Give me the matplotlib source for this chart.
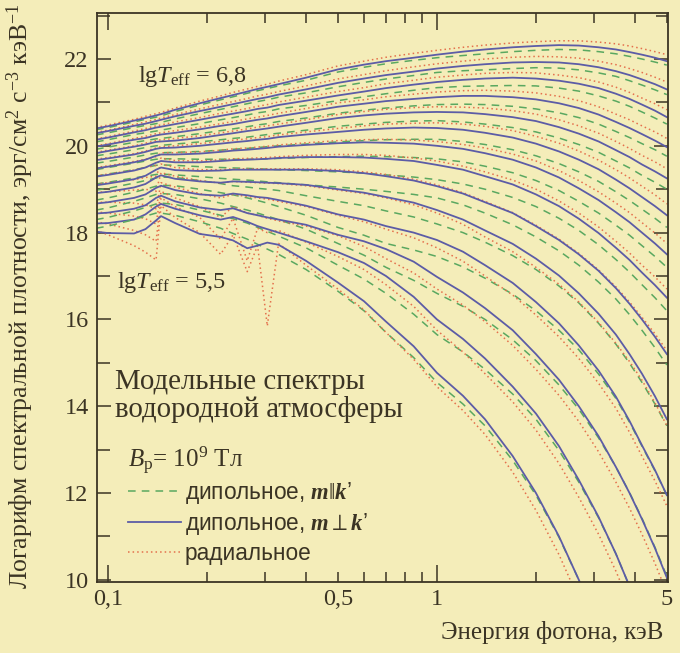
import matplotlib
matplotlib.use("Agg")
import matplotlib.pyplot as plt
from matplotlib.ticker import FixedLocator, FixedFormatter, NullFormatter

# photon energy grid, keV
energy = [0.092, 0.1, 0.12, 0.13, 0.14, 0.145, 0.16, 0.19, 0.22, 0.24, 0.265, 0.285,
          0.305, 0.33, 0.4, 0.5, 0.6, 0.7, 0.85, 1.0, 1.2, 1.4, 1.7, 2.0, 2.35, 2.7,
          3.1, 3.5, 3.85, 4.2, 4.6, 5.0]
lg_teff = [6.8, 6.7, 6.6, 6.5, 6.4, 6.3, 6.2, 6.1, 6.0, 5.9, 5.8, 5.7, 5.6, 5.5]

# dipole field, m perpendicular to k' (solid)
perp = [
    [20.40, 20.45, 20.58, 20.64, 20.70, 20.73, 20.83, 20.98, 21.10, 21.17, 21.25, 21.31, 21.36, 21.42, 21.57,
     21.76, 21.87, 21.95, 22.03, 22.10, 22.17, 22.22, 22.27, 22.30, 22.32, 22.31, 22.27, 22.22, 22.16, 22.10, 22.03, 21.95],
    [20.29, 20.34, 20.46, 20.51, 20.57, 20.60, 20.68, 20.80, 20.90, 20.96, 21.03, 21.08, 21.12, 21.18, 21.30,
     21.45, 21.55, 21.63, 21.71, 21.78, 21.84, 21.88, 21.92, 21.93, 21.92, 21.88, 21.81, 21.72, 21.63, 21.53, 21.42, 21.30],
    [20.14, 20.19, 20.31, 20.36, 20.42, 20.44, 20.50, 20.60, 20.69, 20.74, 20.80, 20.85, 20.88, 20.94, 21.04,
     21.16, 21.25, 21.33, 21.41, 21.47, 21.52, 21.55, 21.57, 21.55, 21.50, 21.43, 21.33, 21.20, 21.08, 20.95, 20.81, 20.66],
    [19.98, 20.03, 20.14, 20.18, 20.24, 20.26, 20.30, 20.38, 20.46, 20.50, 20.56, 20.60, 20.63, 20.68, 20.78,
     20.90, 20.97, 21.03, 21.08, 21.12, 21.15, 21.15, 21.12, 21.07, 20.98, 20.87, 20.72, 20.55, 20.41, 20.27, 20.12, 19.97],
    [19.83, 19.88, 19.98, 20.03, 20.09, 20.10, 20.12, 20.18, 20.25, 20.29, 20.34, 20.37, 20.40, 20.44, 20.53,
     20.64, 20.70, 20.74, 20.77, 20.78, 20.77, 20.73, 20.66, 20.57, 20.43, 20.28, 20.10, 19.90, 19.74, 19.57, 19.41, 19.25],
    [19.67, 19.71, 19.80, 19.86, 19.93, 19.95, 19.96, 20.00, 20.05, 20.08, 20.11, 20.14, 20.16, 20.20, 20.26,
     20.32, 20.37, 20.40, 20.42, 20.41, 20.37, 20.30, 20.19, 20.05, 19.87, 19.68, 19.46, 19.22, 19.02, 18.82, 18.61, 18.40],
    [19.48, 19.52, 19.62, 19.68, 19.77, 19.80, 19.80, 19.82, 19.86, 19.89, 19.91, 19.93, 19.95, 19.98, 20.02,
     20.06, 20.08, 20.07, 20.05, 20.00, 19.93, 19.83, 19.68, 19.50, 19.27, 19.02, 18.75, 18.47, 18.24, 18.00, 17.75, 17.50],
    [19.29, 19.33, 19.43, 19.50, 19.61, 19.65, 19.62, 19.62, 19.65, 19.67, 19.68, 19.69, 19.70, 19.72, 19.74,
     19.74, 19.73, 19.70, 19.65, 19.56, 19.45, 19.30, 19.11, 18.88, 18.61, 18.32, 17.99, 17.65, 17.37, 17.08, 16.79, 16.50],
    [19.09, 19.13, 19.23, 19.31, 19.45, 19.50, 19.44, 19.42, 19.43, 19.45, 19.45, 19.45, 19.45, 19.45, 19.45,
     19.42, 19.37, 19.30, 19.20, 19.07, 18.90, 18.70, 18.45, 18.15, 17.83, 17.50, 17.12, 16.72, 16.36, 16.00, 15.60, 15.20],
    [18.91, 18.94, 19.04, 19.12, 19.27, 19.32, 19.24, 19.18, 19.15, 19.18, 19.17, 19.16, 19.15, 19.14, 19.10,
     19.00, 18.92, 18.82, 18.69, 18.52, 18.30, 18.05, 17.74, 17.40, 17.01, 16.60, 16.13, 15.65, 15.20, 14.75, 14.23, 13.70],
    [18.67, 18.70, 18.80, 18.88, 19.03, 19.08, 18.98, 18.88, 18.85, 18.90, 18.86, 18.82, 18.80, 18.75, 18.62,
     18.42, 18.30, 18.15, 18.00, 17.83, 17.56, 17.25, 16.84, 16.40, 15.91, 15.40, 14.82, 14.22, 13.66, 13.10, 12.53, 11.95],
    [18.44, 18.46, 18.55, 18.63, 18.80, 18.85, 18.72, 18.58, 18.52, 18.56, 18.45, 18.40, 18.35, 18.30, 18.18,
     17.95, 17.80, 17.62, 17.33, 16.98, 16.62, 16.26, 15.75, 15.20, 14.61, 14.00, 13.31, 12.60, 12.00, 11.40, 10.73, 10.05],
    [18.21, 18.22, 18.30, 18.42, 18.60, 18.66, 18.55, 18.40, 18.30, 18.36, 18.25, 18.15, 18.08, 18.00, 17.80,
     17.55, 17.30, 17.00, 16.52, 16.00, 15.55, 15.10, 14.45, 13.83, 13.08, 12.30, 11.45, 10.60, 9.85, 9.10, 8.25, 7.40],
    [18.02, 17.99, 17.98, 18.08, 18.28, 18.38, 18.22, 17.97, 17.90, 17.82, 17.64, 17.70, 17.77, 17.72, 17.35,
     16.85, 16.42, 15.95, 15.38, 14.77, 14.24, 13.70, 12.85, 12.00, 11.00, 10.00, 8.90, 7.80, 6.80, 5.80, 4.70, 3.60],
]

# dipole field, m parallel to k' (dashed)
par = [
    [20.37, 20.42, 20.55, 20.61, 20.66, 20.69, 20.79, 20.94, 21.06, 21.13, 21.21, 21.27, 21.32, 21.38, 21.51,
     21.70, 21.81, 21.89, 21.97, 22.03, 22.08, 22.12, 22.17, 22.20, 22.22, 22.21, 22.17, 22.12, 22.06, 22.00, 21.93, 21.86],
    [20.25, 20.30, 20.42, 20.47, 20.51, 20.54, 20.62, 20.74, 20.84, 20.90, 20.97, 21.02, 21.06, 21.12, 21.22,
     21.36, 21.46, 21.54, 21.62, 21.69, 21.73, 21.75, 21.78, 21.80, 21.79, 21.75, 21.68, 21.60, 21.50, 21.40, 21.29, 21.18],
    [20.09, 20.14, 20.26, 20.30, 20.34, 20.36, 20.42, 20.51, 20.60, 20.65, 20.71, 20.76, 20.79, 20.85, 20.93,
     21.04, 21.13, 21.20, 21.28, 21.34, 21.37, 21.38, 21.39, 21.38, 21.33, 21.26, 21.15, 21.03, 20.91, 20.78, 20.64, 20.50],
    [19.92, 19.97, 20.08, 20.12, 20.16, 20.17, 20.21, 20.28, 20.35, 20.39, 20.44, 20.48, 20.51, 20.56, 20.64,
     20.75, 20.82, 20.87, 20.92, 20.95, 20.96, 20.95, 20.91, 20.85, 20.76, 20.65, 20.50, 20.33, 20.19, 20.05, 19.91, 19.76],
    [19.77, 19.81, 19.91, 19.96, 20.00, 20.01, 20.04, 20.09, 20.14, 20.17, 20.20, 20.23, 20.26, 20.29, 20.36,
     20.45, 20.50, 20.54, 20.57, 20.58, 20.55, 20.50, 20.42, 20.32, 20.18, 20.03, 19.85, 19.65, 19.49, 19.32, 19.16, 19.00],
    [19.60, 19.64, 19.74, 19.79, 19.83, 19.84, 19.85, 19.87, 19.90, 19.92, 19.94, 19.96, 19.98, 20.00, 20.04,
     20.09, 20.12, 20.14, 20.15, 20.15, 20.10, 20.03, 19.91, 19.77, 19.59, 19.40, 19.18, 18.94, 18.74, 18.54, 18.33, 18.12],
    [19.45, 19.50, 19.60, 19.65, 19.69, 19.70, 19.70, 19.69, 19.69, 19.69, 19.69, 19.69, 19.70, 19.71, 19.73,
     19.75, 19.76, 19.75, 19.73, 19.70, 19.63, 19.53, 19.38, 19.20, 18.97, 18.72, 18.45, 18.17, 17.94, 17.70, 17.45, 17.20],
    [19.30, 19.35, 19.45, 19.50, 19.55, 19.56, 19.55, 19.52, 19.50, 19.49, 19.48, 19.47, 19.46, 19.45, 19.43,
     19.40, 19.37, 19.33, 19.28, 19.22, 19.12, 19.00, 18.81, 18.60, 18.33, 18.05, 17.72, 17.38, 17.09, 16.80, 16.50, 16.20],
    [19.12, 19.16, 19.26, 19.30, 19.34, 19.35, 19.33, 19.29, 19.25, 19.23, 19.21, 19.19, 19.17, 19.15, 19.10,
     19.05, 19.00, 18.95, 18.88, 18.80, 18.64, 18.45, 18.18, 17.90, 17.58, 17.25, 16.86, 16.47, 16.11, 15.75, 15.35, 14.95],
    [18.98, 19.02, 19.14, 19.20, 19.26, 19.28, 19.27, 19.20, 19.13, 19.08, 19.05, 19.02, 19.00, 18.97, 18.85,
     18.72, 18.62, 18.50, 18.36, 18.20, 18.00, 17.78, 17.47, 17.15, 16.77, 16.38, 15.91, 15.43, 14.99, 14.55, 14.05, 13.55],
    [18.75, 18.80, 18.93, 19.00, 19.07, 19.09, 19.08, 19.00, 18.92, 18.87, 18.80, 18.74, 18.68, 18.60, 18.40,
     18.12, 17.94, 17.75, 17.60, 17.45, 17.21, 16.95, 16.58, 16.20, 15.75, 15.30, 14.74, 14.18, 13.63, 13.08, 12.51, 11.95],
    [18.52, 18.57, 18.72, 18.80, 18.88, 18.90, 18.88, 18.78, 18.68, 18.60, 18.52, 18.45, 18.38, 18.30, 18.08,
     17.75, 17.48, 17.20, 16.90, 16.60, 16.30, 16.00, 15.53, 15.05, 14.49, 13.93, 13.27, 12.60, 12.01, 11.42, 10.75, 10.08],
    [18.30, 18.35, 18.50, 18.58, 18.66, 18.68, 18.65, 18.52, 18.40, 18.32, 18.22, 18.12, 18.03, 17.92, 17.65,
     17.25, 16.93, 16.60, 16.12, 15.65, 15.25, 14.85, 14.28, 13.70, 12.98, 12.25, 11.43, 10.60, 9.85, 9.10, 8.28, 7.45],
    [18.10, 18.15, 18.30, 18.38, 18.45, 18.45, 18.40, 18.25, 18.10, 17.98, 17.85, 17.73, 17.62, 17.50, 17.15,
     16.65, 16.20, 15.70, 15.12, 14.55, 14.05, 13.55, 12.75, 11.95, 10.98, 10.00, 8.90, 7.80, 6.80, 5.80, 4.70, 3.60],
]

# radial field (dotted)
radial = [
    [20.42, 20.48, 20.61, 20.68, 20.74, 20.77, 20.87, 21.03, 21.15, 21.23, 21.31, 21.37, 21.42, 21.49, 21.64,
     21.84, 21.95, 22.04, 22.13, 22.20, 22.27, 22.32, 22.37, 22.40, 22.42, 22.42, 22.39, 22.35, 22.30, 22.24, 22.17, 22.10],
    [20.31, 20.36, 20.49, 20.55, 20.61, 20.64, 20.72, 20.85, 20.96, 21.02, 21.09, 21.15, 21.19, 21.25, 21.38,
     21.54, 21.64, 21.73, 21.82, 21.89, 21.95, 22.00, 22.04, 22.06, 22.05, 22.02, 21.95, 21.87, 21.78, 21.69, 21.58, 21.47],
    [20.16, 20.21, 20.34, 20.40, 20.46, 20.48, 20.55, 20.65, 20.75, 20.80, 20.86, 20.91, 20.95, 21.01, 21.12,
     21.25, 21.34, 21.43, 21.51, 21.58, 21.63, 21.67, 21.69, 21.68, 21.63, 21.57, 21.47, 21.35, 21.23, 21.10, 20.97, 20.83],
    [20.00, 20.05, 20.17, 20.22, 20.28, 20.30, 20.35, 20.43, 20.51, 20.56, 20.62, 20.66, 20.70, 20.75, 20.86,
     20.99, 21.06, 21.13, 21.19, 21.24, 21.27, 21.28, 21.26, 21.22, 21.14, 21.04, 20.90, 20.73, 20.60, 20.46, 20.32, 20.17],
    [19.85, 19.90, 20.00, 20.06, 20.12, 20.14, 20.17, 20.23, 20.30, 20.34, 20.39, 20.43, 20.46, 20.50, 20.60,
     20.72, 20.79, 20.84, 20.88, 20.90, 20.89, 20.87, 20.81, 20.73, 20.60, 20.46, 20.29, 20.10, 19.94, 19.78, 19.63, 19.47],
    [19.69, 19.73, 19.82, 19.88, 19.95, 19.98, 20.00, 20.05, 20.10, 20.13, 20.16, 20.19, 20.21, 20.25, 20.32,
     20.40, 20.46, 20.50, 20.52, 20.53, 20.50, 20.45, 20.35, 20.22, 20.06, 19.88, 19.67, 19.45, 19.26, 19.07, 18.87, 18.66],
    [19.50, 19.54, 19.64, 19.69, 19.75, 19.84, 19.84, 19.86, 19.90, 19.93, 19.95, 19.97, 19.99, 20.02, 20.07,
     20.12, 20.14, 20.15, 20.13, 20.10, 20.03, 19.95, 19.81, 19.65, 19.43, 19.20, 18.94, 18.68, 18.46, 18.23, 17.99, 17.75],
    [19.31, 19.35, 19.44, 19.50, 19.55, 19.72, 19.66, 19.65, 19.68, 19.70, 19.71, 19.72, 19.73, 19.75, 19.78,
     19.80, 19.80, 19.78, 19.72, 19.65, 19.53, 19.40, 19.21, 19.00, 18.73, 18.45, 18.13, 17.80, 17.53, 17.25, 16.98, 16.70],
    [19.12, 19.15, 19.22, 19.27, 19.30, 19.58, 19.50, 19.45, 19.45, 19.47, 19.47, 19.47, 19.47, 19.47, 19.47,
     19.45, 19.40, 19.34, 19.23, 19.10, 18.92, 18.72, 18.46, 18.17, 17.85, 17.52, 17.14, 16.75, 16.40, 16.05, 15.67, 15.28],
    [18.93, 18.94, 18.98, 19.00, 18.95, 19.38, 19.30, 19.20, 19.14, 19.18, 19.16, 19.15, 19.14, 19.13, 19.08,
     18.98, 18.90, 18.80, 18.64, 18.45, 18.19, 17.90, 17.56, 17.20, 16.81, 16.40, 15.93, 15.45, 15.03, 14.60, 14.08, 13.55],
    [18.70, 18.70, 18.68, 18.64, 18.55, 19.15, 19.05, 18.90, 18.80, 18.88, 18.83, 18.80, 18.77, 18.72, 18.60,
     18.40, 18.25, 18.08, 17.88, 17.65, 17.34, 17.00, 16.56, 16.10, 15.60, 15.10, 14.53, 13.95, 13.40, 12.85, 12.28, 11.70],
    [18.48, 18.45, 18.38, 18.32, 18.20, 18.95, 18.80, 18.60, 18.35, 18.60, 18.45, 18.40, 18.33, 18.27, 18.15,
     17.93, 17.68, 17.40, 17.07, 16.70, 16.33, 15.95, 15.40, 14.85, 14.25, 13.65, 12.95, 12.25, 11.65, 11.05, 10.38, 9.70],
    [18.25, 18.20, 18.05, 17.95, 17.80, 18.80, 18.60, 18.35, 17.85, 18.33, 17.35, 18.10, 18.00, 18.05, 17.78,
     17.45, 17.15, 16.80, 16.30, 15.75, 15.25, 14.75, 14.10, 13.45, 12.68, 11.90, 11.05, 10.20, 9.45, 8.70, 7.85, 7.00],
    [18.05, 17.95, 17.70, 17.55, 17.37, 18.62, 18.35, 18.00, 17.50, 17.95, 17.10, 17.70, 15.85, 17.75, 17.25,
     16.70, 16.22, 15.70, 15.08, 14.45, 13.90, 13.35, 12.48, 11.60, 10.58, 9.55, 8.43, 7.30, 6.30, 5.30, 4.20, 3.10],
]

bg = '#f4edb9'
ink = '#3b3424'
c_par = '#5aa860'
c_perp = '#5c5ca6'
c_rad = '#e4704c'

plt.rcParams['font.family'] = ['Liberation Serif', 'DejaVu Serif']
plt.rcParams['mathtext.fontset'] = 'custom'
plt.rcParams['mathtext.rm'] = 'Liberation Serif'
plt.rcParams['mathtext.it'] = 'Liberation Serif:italic'
plt.rcParams['mathtext.bf'] = 'Liberation Serif:italic:bold'
plt.rcParams['text.color'] = ink

fig = plt.figure(figsize=(6.8, 6.53), dpi=100, facecolor=bg)
ax = fig.add_axes([97 / 680, 71 / 653, 571 / 680, 569 / 653], facecolor=bg)

for i, t in enumerate(lg_teff):
    hp, = ax.plot(energy, par[i], color=c_par, lw=1.1, dashes=(5, 4))
    hr, = ax.plot(energy, radial[i], color=c_rad, lw=1.1, dashes=(1, 2))
    hs, = ax.plot(energy, perp[i], color=c_perp, lw=1.3)

ax.set_xscale('log')
ax.set_xlim(0.0926, 5.04)
ax.set_ylim(9.95, 23.06)

ax.xaxis.set_major_locator(FixedLocator([0.1, 1]))
ax.xaxis.set_major_formatter(FixedFormatter(['0,1', '1']))
minor_x = [0.2, 0.3, 0.4, 0.5, 0.6, 0.7, 0.8, 0.9, 2, 3, 4, 5]
ax.xaxis.set_minor_locator(FixedLocator(minor_x))
ax.xaxis.set_minor_formatter(FixedFormatter(['', '', '', '0,5', '', '', '', '', '', '', '', '5']))
ax.yaxis.set_major_locator(FixedLocator([10, 12, 14, 16, 18, 20, 22]))
ax.yaxis.set_minor_locator(FixedLocator([11, 13, 15, 17, 19, 21, 23]))
ax.yaxis.set_minor_formatter(NullFormatter())

ax.tick_params(which='both', direction='in', top=True, right=True, colors=ink,
               labelsize=17.5, width=1.1)
ax.tick_params(axis='x', which='major', length=12, pad=5)
ax.tick_params(axis='x', which='minor', length=7, pad=5)
ax.tick_params(axis='y', which='major', length=10, pad=6)
ax.tick_params(axis='y', which='minor', length=9)
for s in ax.spines.values():
    s.set_color(ink)
    s.set_linewidth(1.3)

ax.set_ylabel('Логарифм спектральной плотности, эрг/см$^2$ с$^{-3}$ кэВ$^{-1}$',
              fontsize=18.5, color=ink)
ax.yaxis.set_label_coords(-0.106, 0.503)
ax.set_xlabel('Энергия фотона, кэВ', fontsize=18, color=ink, loc='right')
ax.xaxis.set_label_coords(0.992, -0.068)

ax.text(0.072, 0.879, r'lg$T_{\mathrm{eff}}$ = 6,8', transform=ax.transAxes, fontsize=17.5)
ax.text(0.035, 0.517, r'lg$T_{\mathrm{eff}}$ = 5,5', transform=ax.transAxes, fontsize=17.5)
ax.text(0.032, 0.339, 'Модельные спектры', transform=ax.transAxes, fontsize=20.8)
ax.text(0.032, 0.290, 'водородной атмосферы', transform=ax.transAxes, fontsize=20.8)
ax.text(0.054, 0.202, r'$B_{\mathrm{p}}$= 10$^9$ Тл', transform=ax.transAxes, fontsize=18)

ax.legend([hp, hs, hr],
          [r'дипольное, $\mathbf{m}\Vert\mathbf{k}$’',
           r'дипольное, $\mathbf{m}\perp\mathbf{k}$’',
           'радиальное'],
          loc='upper left', bbox_to_anchor=(128 / 680, 1 - 480 / 653),
          bbox_transform=fig.transFigure, frameon=False,
          prop={'family': ['Liberation Sans', 'DejaVu Sans'], 'size': 16.3},
          handlelength=2.35, handletextpad=0.15, labelspacing=0.22,
          borderpad=0, borderaxespad=0)

fig.savefig('out.png', dpi=100, facecolor=bg)
